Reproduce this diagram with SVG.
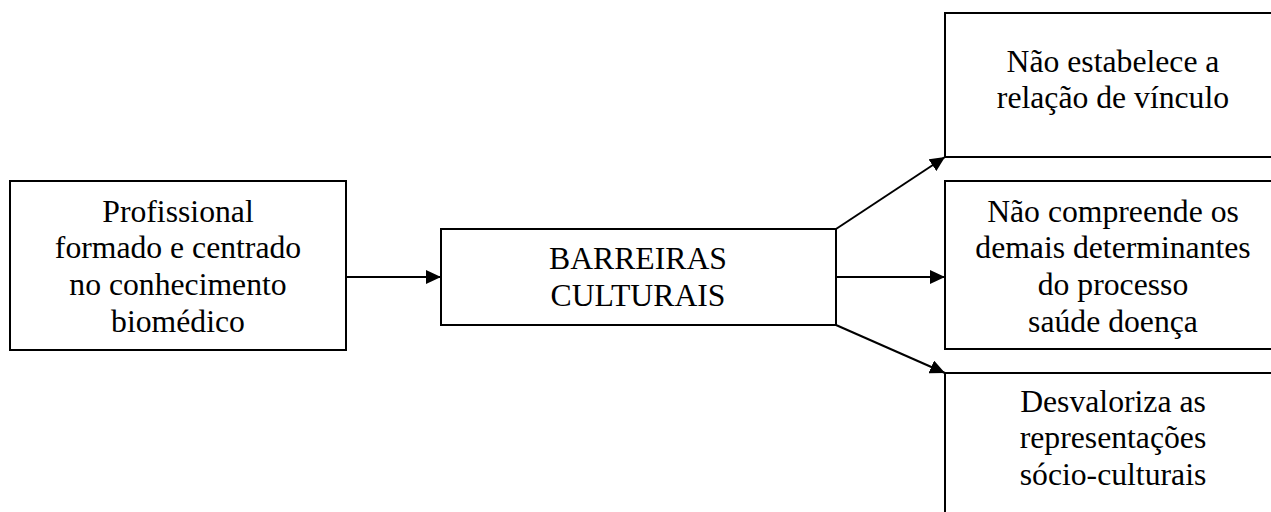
<svg xmlns="http://www.w3.org/2000/svg" width="1271" height="512" viewBox="0 0 1271 512">
<style>
.box{fill:#fff;stroke:#000;stroke-width:2}
.t{font-family:"Liberation Serif","Times New Roman",serif;font-size:31.7px;fill:#000;text-anchor:middle}
.c{stroke:#000;stroke-width:2;fill:none;marker-end:url(#ah)}
</style>
<defs>
<marker id="ah" viewBox="0 0 15 14" refX="15" refY="7" markerWidth="15" markerHeight="14" markerUnits="userSpaceOnUse" orient="auto">
<path d="M0,0 L15,7 L0,14 Z" fill="#000"/>
</marker>
</defs>
<rect width="1271" height="512" fill="#fff"/>
<g id="n-profissional">
<rect class="box" x="10" y="181" width="336" height="169"/>
<text class="t" x="178" y="222">Profissional</text>
<text class="t" x="178" y="258">formado e centrado</text>
<text class="t" x="178" y="295">no conhecimento</text>
<text class="t" x="178" y="332">biomédico</text>
</g>
<g id="n-barreiras">
<rect class="box" x="441" y="229" width="395" height="96"/>
<text class="t" x="638" y="269">BARREIRAS</text>
<text class="t" x="638" y="306">CULTURAIS</text>
</g>
<g id="n-vinculo">
<rect class="box" x="945" y="13" width="340" height="144"/>
<text class="t" x="1113" y="72">Não estabelece a</text>
<text class="t" x="1113" y="108">relação de vínculo</text>
</g>
<g id="n-determinantes">
<rect class="box" x="945" y="181" width="340" height="168"/>
<text class="t" x="1113" y="222">Não compreende os</text>
<text class="t" x="1113" y="258">demais determinantes</text>
<text class="t" x="1113" y="295">do processo</text>
<text class="t" x="1113" y="332">saúde doença</text>
</g>
<g id="n-desvaloriza">
<rect class="box" x="945" y="373" width="340" height="160"/>
<text class="t" x="1113" y="412">Desvaloriza as</text>
<text class="t" x="1113" y="448">representações</text>
<text class="t" x="1113" y="485">sócio-culturais</text>
</g>
<g id="connectors">
<line class="c" x1="346" y1="277" x2="441" y2="277"/>
<line class="c" x1="836" y1="229" x2="945" y2="157"/>
<line class="c" x1="836" y1="277" x2="945" y2="277"/>
<line class="c" x1="836" y1="325" x2="945" y2="373"/>
</g>
</svg>
